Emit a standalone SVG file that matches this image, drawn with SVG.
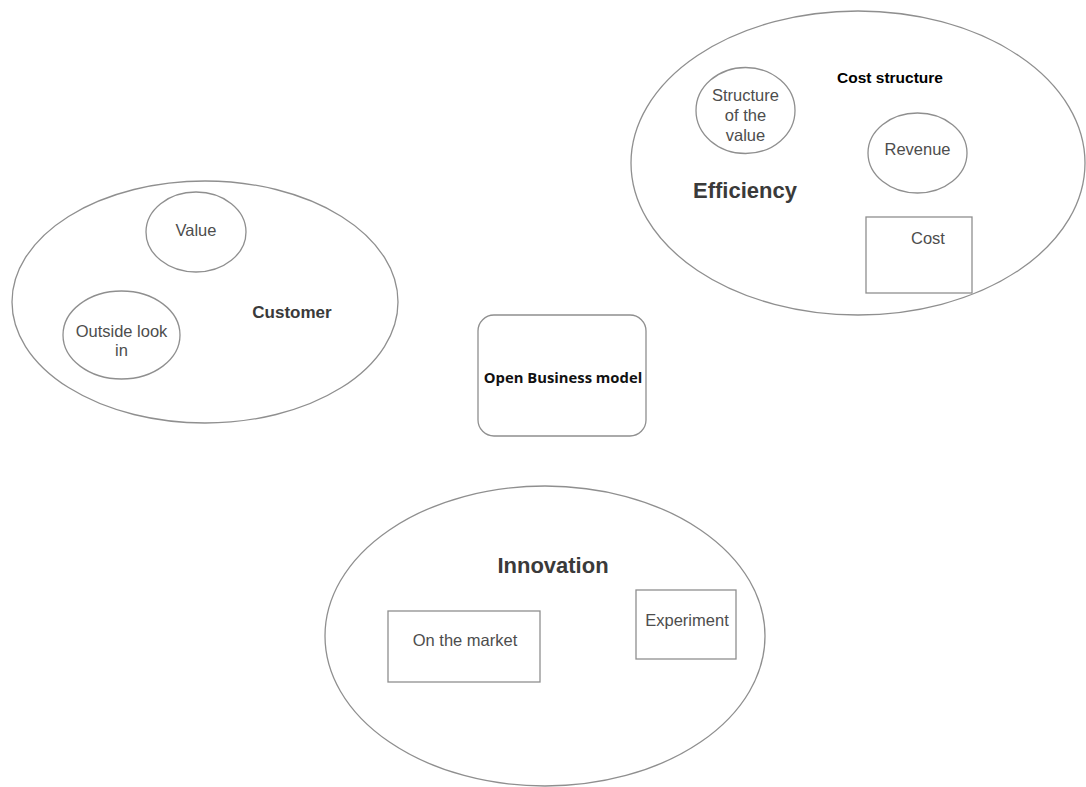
<svg xmlns="http://www.w3.org/2000/svg" width="1086" height="787" viewBox="0 0 1086 787">
  <style>
    .shape { fill: #ffffff; stroke: #8f8f8f; stroke-width: 1.3; }
    .lbl { font-family: "Liberation Sans", Arial, sans-serif; font-size: 16.5px; fill: #4d4d4d; text-anchor: middle; dominant-baseline: central; }
    .title { font-family: "Liberation Sans", Arial, sans-serif; font-weight: bold; fill: #3a3a3a; text-anchor: middle; dominant-baseline: central; }
    .center { font-family: "Open Sans", "Liberation Sans", sans-serif; font-weight: bold; font-size: 14.8px; fill: #111111; text-anchor: middle; dominant-baseline: central; }
  </style>
  <rect width="1086" height="787" fill="#ffffff"/>

  <!-- Efficiency cluster -->
  <g id="efficiency">
    <ellipse class="shape" cx="858" cy="163" rx="227" ry="152"/>
    <text class="title" x="745" y="190" font-size="22">Efficiency</text>
    <text x="890" y="77" font-family="Liberation Sans, Arial, sans-serif" font-size="15.5" font-weight="bold" fill="#000" text-anchor="middle" dominant-baseline="central">Cost structure</text>
  </g>
  <g id="structure-of-value">
    <ellipse class="shape" cx="745.5" cy="110.5" rx="49.5" ry="43"/>
    <text class="lbl" x="745.5" y="95">Structure</text>
    <text class="lbl" x="745.5" y="115">of the</text>
    <text class="lbl" x="745.5" y="135">value</text>
  </g>
  <g id="revenue">
    <ellipse class="shape" cx="917.5" cy="153" rx="49.5" ry="40"/>
    <text class="lbl" x="917.5" y="149">Revenue</text>
  </g>
  <g id="cost">
    <rect class="shape" x="866" y="217" width="106" height="76"/>
    <text class="lbl" x="928" y="238">Cost</text>
  </g>

  <!-- Customer cluster -->
  <g id="customer">
    <ellipse class="shape" cx="205" cy="302" rx="193" ry="121"/>
    <text class="title" x="292" y="312" font-size="17">Customer</text>
  </g>
  <g id="value">
    <ellipse class="shape" cx="196" cy="232" rx="50" ry="40"/>
    <text class="lbl" x="196" y="230">Value</text>
  </g>
  <g id="outside-look-in">
    <ellipse class="shape" cx="121.5" cy="335" rx="58.5" ry="44"/>
    <text class="lbl" x="121.5" y="331">Outside look</text>
    <text class="lbl" x="121.5" y="350">in</text>
  </g>

  <!-- Central node -->
  <g id="open-business-model">
    <rect class="shape" x="478" y="315" width="168" height="121" rx="16" ry="16"/>
    <text class="center" x="563" y="377">Open Business model</text>
  </g>

  <!-- Innovation cluster -->
  <g id="innovation">
    <ellipse class="shape" cx="545" cy="636" rx="220" ry="150"/>
    <text class="title" x="553" y="565" font-size="22">Innovation</text>
  </g>
  <g id="on-the-market">
    <rect class="shape" x="388" y="611" width="152" height="71"/>
    <text class="lbl" x="465" y="640">On the market</text>
  </g>
  <g id="experiment">
    <rect class="shape" x="636" y="590" width="100" height="69"/>
    <text class="lbl" x="687" y="620">Experiment</text>
  </g>
</svg>
